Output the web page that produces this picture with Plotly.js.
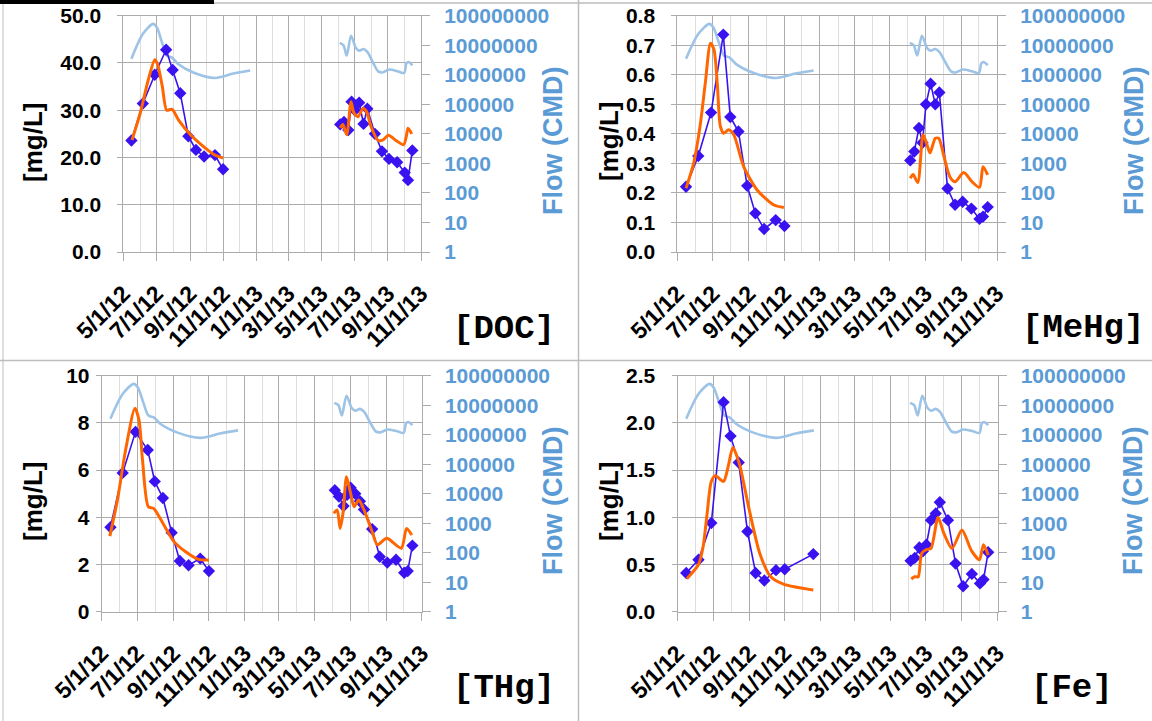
<!DOCTYPE html>
<html><head><meta charset="utf-8">
<script src="https://cdn.plot.ly/plotly-3.0.1.min.js"></script>
<style>html,body{margin:0;padding:0;background:#fff;}#chart{width:1152px;height:721px;}</style>
</head><body><div id="chart"></div>
<script>
// ---------- data ----------
const panelNames = ['[DOC]', '[MeHg]', '[THg]', '[Fe]'];
const concUnit = '[mg/L]';
const flowTitle = 'Flow (CMD)';
const flowTickVals = [1, 10, 100, 1000, 10000, 100000, 1000000, 10000000, 100000000];
const flowTickLabels = ['1', '10', '100', '1000', '10000', '100000', '1000000', '10000000', '100000000'];

// sampling dates of the measured series
const obsDates2012 = ['2012-05-16','2012-06-06','2012-06-28','2012-07-19','2012-07-31','2012-08-14','2012-08-29','2012-09-12','2012-09-27','2012-10-17','2012-11-01'];
const obsDatesFe2012 = ['2012-05-16','2012-06-06','2012-06-28','2012-07-19','2012-07-31','2012-08-14','2012-08-29','2012-09-12','2012-09-27','2012-10-17','2012-11-01','2012-12-20'];
const obsDates2013 = ['2013-06-05','2013-06-12','2013-06-20','2013-06-26','2013-07-02','2013-07-10','2013-07-18','2013-07-25','2013-08-08','2013-08-21','2013-09-03','2013-09-18','2013-10-02','2013-10-08','2013-10-16'];

// flow (CMD)
const flowDates2012 = ['2012-05-16','2012-06-06','2012-06-25','2012-07-02','2012-07-11','2012-07-20','2012-07-30','2012-08-10','2012-09-07','2012-10-17','2012-11-20','2012-12-21'];
const flow2012 = [3.5e6, 2.4e7, 5.3e7, 4.0e7, 1.3e7, 4.5e6, 3.8e6, 2.3e6, 1.2e6, 7.8e5, 1.1e6, 1.4e6];
const flowDates2013 = ['2013-06-04','2013-06-11','2013-06-17','2013-06-25','2013-07-04','2013-07-10','2013-07-18','2013-07-25','2013-08-05','2013-08-14','2013-08-22','2013-09-03','2013-09-20','2013-10-01','2013-10-05','2013-10-09','2013-10-16'];
const flow2013 = [1.2e7, 1.0e7, 4.5e6, 2.1e7, 8.0e6, 6.5e6, 7.5e6, 6.0e6, 2.5e6, 1.3e6, 1.2e6, 1.5e6, 1.3e6, 1.15e6, 2.4e6, 2.7e6, 2.1e6];

// DOC
const docObs2012 = [23.6, 31.4, 37.5, 42.8, 38.5, 33.6, 24.5, 21.6, 20.2, 20.5, 17.5];
const docObs2013 = [27.0, 27.5, 25.8, 31.8, 30.0, 31.6, 27.1, 30.3, 25.0, 21.3, 19.7, 19.0, 16.8, 15.2, 21.5];
const docModelDates2012 = ['2012-05-17','2012-06-01','2012-06-16','2012-06-28','2012-07-03','2012-07-12','2012-07-20','2012-07-30','2012-08-11','2012-09-02','2012-09-26','2012-10-17','2012-11-01'];
const docModel2012 = [23.7, 29.3, 36.4, 40.7, 39.8, 35.0, 30.0, 30.2, 27.9, 24.8, 22.3, 20.5, 19.9];
const docModelDates2013 = ['2013-06-05','2013-06-10','2013-06-17','2013-06-25','2013-06-30','2013-07-08','2013-07-17','2013-07-24','2013-08-01','2013-08-14','2013-08-23','2013-09-02','2013-09-16','2013-09-30','2013-10-05','2013-10-08','2013-10-15'];
const docModel2013 = [26.3, 27.0, 24.8, 31.8, 29.5, 28.6, 30.4, 29.6, 26.5, 23.6, 23.7, 24.7, 23.6, 22.7, 24.5, 26.2, 25.0];

// MeHg
const mehgObs2012 = [0.221, 0.325, 0.472, 0.736, 0.457, 0.408, 0.224, 0.131, 0.078, 0.108, 0.088];
const mehgObs2013 = [0.31, 0.34, 0.42, 0.37, 0.50, 0.57, 0.50, 0.54, 0.215, 0.16, 0.17, 0.147, 0.112, 0.12, 0.152];
const mehgModelDates2012 = ['2012-05-16','2012-05-29','2012-06-09','2012-06-18','2012-06-27','2012-07-03','2012-07-09','2012-07-14','2012-07-20','2012-07-28','2012-08-06','2012-08-23','2012-09-15','2012-10-14','2012-10-31'];
const mehgModel2012 = [0.216, 0.30, 0.425, 0.57, 0.707, 0.685, 0.56, 0.425, 0.402, 0.414, 0.397, 0.289, 0.21, 0.159, 0.151];
const mehgModelDates2013 = ['2013-06-05','2013-06-10','2013-06-18','2013-06-27','2013-07-03','2013-07-09','2013-07-18','2013-07-24','2013-08-02','2013-08-12','2013-08-21','2013-09-05','2013-09-19','2013-10-02','2013-10-08','2013-10-16'];
const mehgModel2013 = [0.250, 0.262, 0.235, 0.397, 0.368, 0.335, 0.385, 0.385, 0.323, 0.255, 0.238, 0.269, 0.238, 0.219, 0.289, 0.261];

// THg
const thgObs2012 = [3.58, 5.88, 7.62, 6.85, 5.52, 4.82, 3.35, 2.15, 1.97, 2.25, 1.72];
const thgObs2013 = [5.15, 4.88, 4.48, 4.95, 5.25, 5.0, 4.68, 4.33, 3.5, 2.33, 2.08, 2.2, 1.65, 1.72, 2.8];
const thgModelDates2012 = ['2012-05-15','2012-05-28','2012-06-11','2012-06-27','2012-07-04','2012-07-10','2012-07-20','2012-07-29','2012-08-14','2012-09-02','2012-09-22','2012-10-14','2012-11-01'];
const thgModel2012 = [3.2, 4.73, 6.85, 8.62, 8.12, 6.43, 4.45, 4.38, 3.75, 2.97, 2.54, 2.22, 2.19];
const thgModelDates2013 = ['2013-06-03','2013-06-09','2013-06-14','2013-06-19','2013-06-25','2013-07-02','2013-07-08','2013-07-16','2013-07-25','2013-08-08','2013-08-17','2013-09-02','2013-09-27','2013-10-06','2013-10-15'];
const thgModel2013 = [4.17, 4.31, 3.53, 4.17, 5.72, 5.02, 4.45, 4.73, 4.31, 3.39, 2.83, 3.11, 2.69, 3.53, 3.25];

// Fe
const feObs2012 = [0.41, 0.55, 0.94, 2.22, 1.86, 1.58, 0.85, 0.41, 0.33, 0.44, 0.45, 0.61];
const feObs2013 = [0.54, 0.57, 0.68, 0.64, 0.71, 0.97, 1.04, 1.16, 0.97, 0.51, 0.27, 0.40, 0.30, 0.34, 0.63];
const feModelDates2012 = ['2012-05-17','2012-06-06','2012-06-14','2012-06-21','2012-06-28','2012-07-05','2012-07-19','2012-07-27','2012-08-04','2012-08-15','2012-08-31','2012-09-19','2012-10-08','2012-10-31','2012-12-20'];
const feModel2012 = [0.35, 0.50, 0.69, 1.05, 1.38, 1.44, 1.38, 1.54, 1.74, 1.57, 1.11, 0.62, 0.37, 0.29, 0.23];
const feModelDates2013 = ['2013-06-06','2013-06-12','2013-06-18','2013-06-24','2013-07-03','2013-07-10','2013-07-22','2013-08-01','2013-08-15','2013-09-01','2013-09-17','2013-10-01','2013-10-08','2013-10-16'];
const feModel2013 = [0.346, 0.37, 0.37, 0.62, 0.66, 0.67, 1.0, 0.83, 0.67, 0.865, 0.65, 0.55, 0.71, 0.60];

// axis settings per panel
const concRanges = [[0, 50], [0, 0.8], [0, 10], [0, 2.5]];
const concDticks = [10, 0.1, 2, 0.5];
const concFormats = ['.1f', '.1f', 'd', '.1f'];
const xRange = ['2012-05-01', '2013-11-01'];

// ---------- layout helpers ----------
const W = 1152, H = 721;
const px = x => x / W;
const py = y => 1 - y / H;
// plot-area boxes in pixels [left, right, top, bottom]
const boxes = [[123.3, 421, 15.7, 252], [677.3, 997, 15.7, 252], [101.7, 421.7, 375.7, 611.7], [677.5, 997.5, 375.7, 611.7]];
const standoffs = [12, 12, 2, 12];

const FONT = 'Liberation Sans, Arial, sans-serif';
const FLOWC = '#5B9BD5';
const GRID = '#ABABAB';
const MINOR = '#DEDEDE';
const OBSC = '#3A12F0';
const MODC = '#FF6600';
const FLOWLINE = '#9DC3E6';

const series = [
  {obs2012: docObs2012, obsD2012: obsDates2012, obs2013: docObs2013, m1d: docModelDates2012, m1: docModel2012, m2d: docModelDates2013, m2: docModel2013},
  {obs2012: mehgObs2012, obsD2012: obsDates2012, obs2013: mehgObs2013, m1d: mehgModelDates2012, m1: mehgModel2012, m2d: mehgModelDates2013, m2: mehgModel2013},
  {obs2012: thgObs2012, obsD2012: obsDates2012, obs2013: thgObs2013, m1d: thgModelDates2012, m1: thgModel2012, m2d: thgModelDates2013, m2: thgModel2013},
  {obs2012: feObs2012, obsD2012: obsDatesFe2012, obs2013: feObs2013, m1d: feModelDates2012, m1: feModel2012, m2d: feModelDates2013, m2: feModel2013}
];

const data = [];
const layout = {
  width: W, height: H, margin: {l: 0, r: 0, t: 0, b: 0},
  paper_bgcolor: '#fff', plot_bgcolor: 'rgba(0,0,0,0)', showlegend: false,
  font: {family: FONT, color: '#000'},
  annotations: [], shapes: []
};

for (let i = 0; i < 4; i++) {
  const k = i + 1;
  const xa = 'x' + (k === 1 ? '' : k);
  const fy = 'y' + (2 * k - 1 === 1 ? '' : (2 * k - 1));
  const cy = 'y' + (2 * k);
  const b = boxes[i];
  const xdom = [px(b[0]), px(b[1])];
  const ydom = [py(b[3]), py(b[2])];
  const s = series[i];

  // flow on main (right, log) axis — drawn beneath
  [[flowDates2012, flow2012], [flowDates2013, flow2013]].forEach(([d, v]) => {
    data.push({x: d, y: v, xaxis: xa, yaxis: fy, type: 'scatter', mode: 'lines',
      line: {color: FLOWLINE, width: 2.6, shape: 'spline', smoothing: 0.8}, hoverinfo: 'skip'});
  });
  // measured concentrations
  [[s.obsD2012, s.obs2012], [obsDates2013, s.obs2013]].forEach(([d, v]) => {
    data.push({x: d, y: v, xaxis: xa, yaxis: cy, type: 'scatter', mode: 'lines+markers',
      line: {color: OBSC, width: 1.6}, marker: {symbol: 'diamond', size: 9.5, color: OBSC}, hoverinfo: 'skip'});
  });
  // modelled concentrations
  [[s.m1d, s.m1], [s.m2d, s.m2]].forEach(([d, v]) => {
    data.push({x: d, y: v, xaxis: xa, yaxis: cy, type: 'scatter', mode: 'lines',
      line: {color: MODC, width: 3, shape: 'spline', smoothing: 0.7}, hoverinfo: 'skip'});
  });

  layout['xaxis' + (k === 1 ? '' : k)] = {
    domain: xdom, anchor: fy, type: 'date', range: xRange,
    tick0: '2012-05-01', dtick: 'M2', tickformat: '%-m/%-d/%y', tickangle: -45,
    ticks: 'outside', ticklen: 8, tickcolor: GRID, tickwidth: 1,
    showline: true, linecolor: GRID, linewidth: 1, mirror: true,
    showgrid: true, gridcolor: GRID, gridwidth: 1,
    minor: {dtick: 'M1', showgrid: true, gridcolor: MINOR, ticks: ''},
    tickfont: {family: FONT, size: 23, color: '#000', weight: 'bold'},
    ticklabelstandoff: 10, zeroline: false, fixedrange: true
  };
  layout['yaxis' + (2 * k - 1 === 1 ? '' : (2 * k - 1))] = {
    domain: ydom, anchor: xa, side: 'right', type: 'log', range: [0, 8],
    tickvals: flowTickVals, ticktext: flowTickLabels,
    ticks: 'outside', ticklen: 8, tickcolor: GRID,
    showline: false, showgrid: false, zeroline: false,
    tickfont: {family: FONT, size: 21, color: FLOWC, weight: 'bold'},
    ticklabelstandoff: 10, fixedrange: true
  };
  layout['yaxis' + (2 * k)] = {
    domain: ydom, anchor: xa, overlaying: fy, side: 'left',
    range: concRanges[i], dtick: concDticks[i], tick0: 0, tickformat: concFormats[i],
    ticks: 'outside', ticklen: 5, tickcolor: GRID,
    showline: true, linecolor: GRID, mirror: true,
    showgrid: true, gridcolor: GRID, zeroline: false,
    tickfont: {family: FONT, size: 21, color: '#000', weight: 'bold'},
    ticklabelstandoff: standoffs[i], fixedrange: true
  };
}

// titles and labels as annotations (pixel-placed)
const unitPos = [[33, 143], [609, 142], [33, 502], [609, 502]];
const flowPos = [[553, 141], [1134, 141], [553, 501], [1133, 501]];
const namePos = [[504, 329], [1083, 328], [504, 688], [1072, 688]];
for (let i = 0; i < 4; i++) {
  layout.annotations.push({xref: 'paper', yref: 'paper', x: px(unitPos[i][0]), y: py(unitPos[i][1]),
    text: concUnit, showarrow: false, textangle: -90, xanchor: 'center', yanchor: 'middle',
    font: {family: FONT, size: 26, color: '#000', weight: 'bold'}});
  layout.annotations.push({xref: 'paper', yref: 'paper', x: px(flowPos[i][0]), y: py(flowPos[i][1]),
    text: flowTitle, showarrow: false, textangle: -90, xanchor: 'center', yanchor: 'middle',
    font: {family: FONT, size: 27, color: FLOWC, weight: 'bold'}});
  layout.annotations.push({xref: 'paper', yref: 'paper', x: px(namePos[i][0]), y: py(namePos[i][1]),
    text: panelNames[i], showarrow: false, xanchor: 'center', yanchor: 'middle',
    font: {family: 'Liberation Mono, Courier New, monospace', size: 34, color: '#000', weight: 'bold'}});
}

// frame lines
const frame = '#BDBDBD';
layout.shapes.push(
  {type: 'line', xref: 'paper', yref: 'paper', x0: px(578.5), x1: px(578.5), y0: 0, y1: 1, line: {color: frame, width: 1.5}},
  {type: 'line', xref: 'paper', yref: 'paper', x0: 0, x1: 1, y0: py(360.5), y1: py(360.5), line: {color: frame, width: 1.5}},
  {type: 'line', xref: 'paper', yref: 'paper', x0: px(3), x1: px(3), y0: 0, y1: py(3), line: {color: frame, width: 1}},
  {type: 'line', xref: 'paper', yref: 'paper', x0: px(214), x1: 1, y0: py(3), y1: py(3), line: {color: frame, width: 1.5}},
  {type: 'rect', xref: 'paper', yref: 'paper', x0: 0, x1: px(214), y0: py(4), y1: 1, fillcolor: '#000', line: {width: 0}}
);

Plotly.newPlot('chart', data, layout, {staticPlot: true, displayModeBar: false});
</script></body></html>
